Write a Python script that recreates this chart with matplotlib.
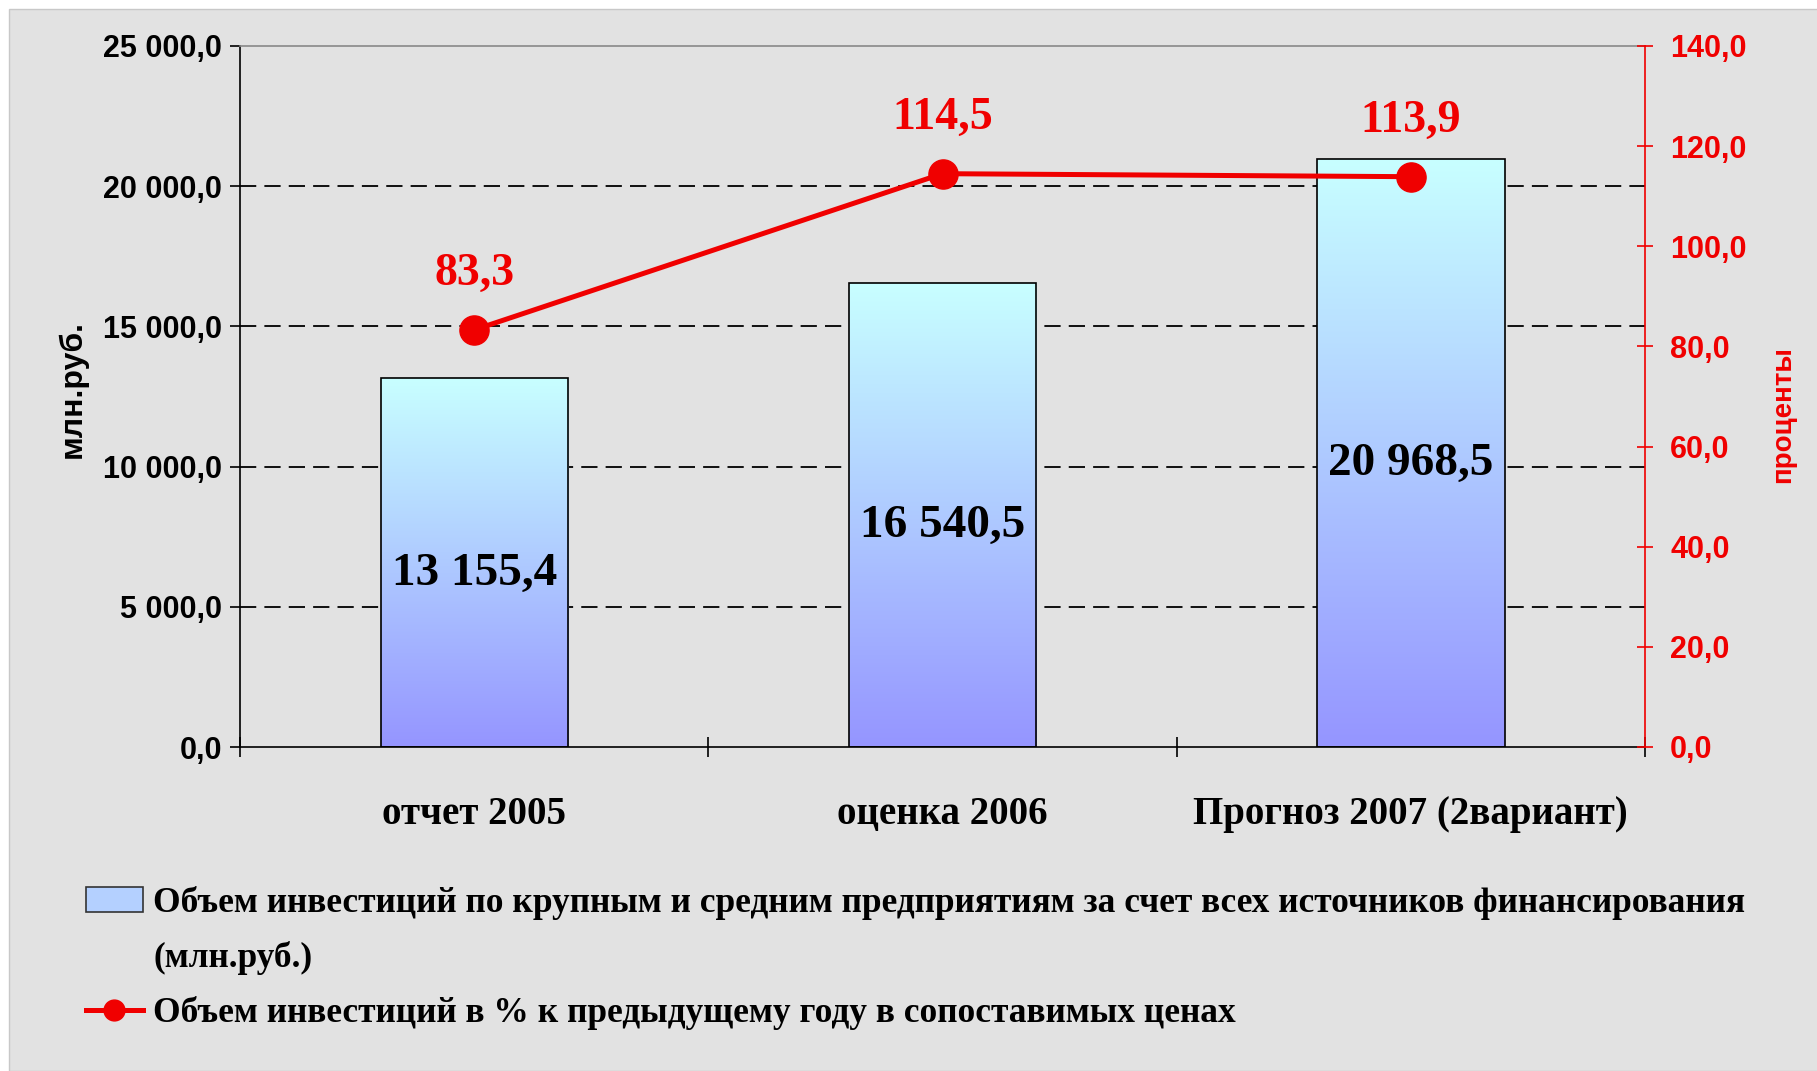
import numpy as np
import matplotlib
matplotlib.use("Agg")
import matplotlib.pyplot as plt
from matplotlib.colors import LinearSegmentedColormap
from matplotlib.patches import Rectangle, Patch
from matplotlib.lines import Line2D

categories = ["отчет 2005", "оценка 2006", "Прогноз 2007 (2вариант)"]
invest = [13155.4, 16540.5, 20968.5]
pct = [83.3, 114.5, 113.9]
left_ticks = [0, 5000, 10000, 15000, 20000, 25000]
right_ticks = [0, 20, 40, 60, 80, 100, 120, 140]
label_bar = "Объем инвестиций по крупным и средним предприятиям за счет всех источников финансирования"
label_bar2 = "(млн.руб.)"
label_line = "Объем инвестиций в % к предыдущему году в сопоставимых ценах"
ylabel_left = "млн.руб."
ylabel_right = "проценты"

RED = "#f00000"
SERIF = "Liberation Serif"
plt.rcParams["font.family"] = ["Liberation Sans", "DejaVu Sans"]
plt.rcParams["font.weight"] = "bold"

def fmt_left(v):
    return f"{v:,.1f}".replace(",", " ").replace(".", ",")

def fmt_pct(v):
    return f"{v:.1f}".replace(".", ",")

W, H = 1817, 1071
fig = plt.figure(figsize=(W / 100, H / 100), dpi=100)
fig.patch.set_facecolor("white")
fig.patches.append(Rectangle((9 / W, 0), 1, 1 - 9 / H, transform=fig.transFigure,
                             facecolor="#e2e2e2", edgecolor="#c8c8c8", lw=1, zorder=-10))

ax = fig.add_axes([240 / W, 1 - 747 / H, (1645 - 240) / W, (747 - 46) / H])
ax.patch.set_alpha(0)
x = np.arange(len(categories))

bars = ax.bar(x, invest, width=0.4, facecolor="none", edgecolor="black", lw=1.2, zorder=3)
cmap = LinearSegmentedColormap.from_list("g", ["#9595ff", "#c8ffff"])
grad = np.linspace(0, 1, 256).reshape(-1, 1)
for b in bars:
    x0, w, h = b.get_x(), b.get_width(), b.get_height()
    im = ax.imshow(grad, extent=[x0, x0 + w, 0, h], origin="lower", cmap=cmap,
                   aspect="auto", zorder=2)
    im.set_clip_path(b)

for xi, v in zip(x, invest):
    ax.annotate(fmt_left(v), (xi, v / 2), xytext=(0, -8), textcoords="offset points",
                ha="center", va="center", fontsize=34, family=SERIF, weight="bold",
                color="black", zorder=4)

ax.set_xlim(-0.5, len(categories) - 0.5)
ax.set_ylim(0, 25000)
ax.set_yticks(left_ticks)
ax.set_yticklabels([fmt_left(v) for v in left_ticks])
ax.tick_params(axis="y", direction="out", length=7, width=1.2, labelsize=22, pad=6)
for yv in left_ticks[1:-1]:
    ax.axhline(yv, color="black", lw=1.3, ls=(0, (9, 4.5)), zorder=1)

ax.set_xticks(x)
ax.set_xticklabels(categories, family=SERIF, weight="bold", fontsize=28)
ax.set_xticks(np.arange(-0.5, len(categories), 1.0), minor=True)
ax.tick_params(axis="x", which="major", length=0, pad=35)
ax.tick_params(axis="x", which="minor", direction="inout", length=14, width=1.2)

ax.spines["right"].set_visible(False)
ax.spines["top"].set_color("#888888")
for s in ["left", "bottom", "top"]:
    ax.spines[s].set_linewidth(1.2)

ax.set_ylabel(ylabel_left, fontsize=23, weight="bold")
ax.yaxis.set_label_coords(-0.1085, 0.51)

ax2 = ax.twinx()
ax2.plot(x, pct, color=RED, lw=3.6, marker="o", ms=21, zorder=5)
ax2.set_ylim(0, 140)
ax2.set_yticks(right_ticks)
ax2.set_yticklabels([fmt_pct(v) for v in right_ticks])
ax2.tick_params(axis="y", direction="inout", length=12, width=1.2, colors=RED,
                labelsize=22, pad=12)
for s in ["left", "top", "bottom"]:
    ax2.spines[s].set_visible(False)
ax2.spines["right"].set_color(RED)
ax2.spines["right"].set_linewidth(1.2)
ax2.set_ylabel(ylabel_right, fontsize=20, weight="bold", color=RED)
ax2.yaxis.set_label_coords(1.089, 0.475)

for xi, v in zip(x, pct):
    ax2.annotate(fmt_pct(v), (xi, v), xytext=(0, 40), textcoords="offset points",
                 ha="center", va="center", fontsize=33, family=SERIF,
                 weight="bold", color=RED)

handles = [Patch(facecolor="#b4d0ff", edgecolor="#333333", lw=1.2),
           Line2D([], [], linestyle="none"),
           Line2D([], [], color=RED, lw=3.6, marker="o", ms=15)]
labels = [label_bar, label_bar2, label_line]
leg = fig.legend(handles, labels, loc="upper left", bbox_to_anchor=(86 / W, 1 - 886 / H),
                 frameon=False, borderpad=0, borderaxespad=0, handlelength=1.6,
                 handleheight=0.68, handletextpad=0.3, labelspacing=0.6,
                 prop={"family": SERIF, "weight": "bold", "size": 25.5})

fig.savefig("out.png", dpi=100, facecolor=fig.get_facecolor())
